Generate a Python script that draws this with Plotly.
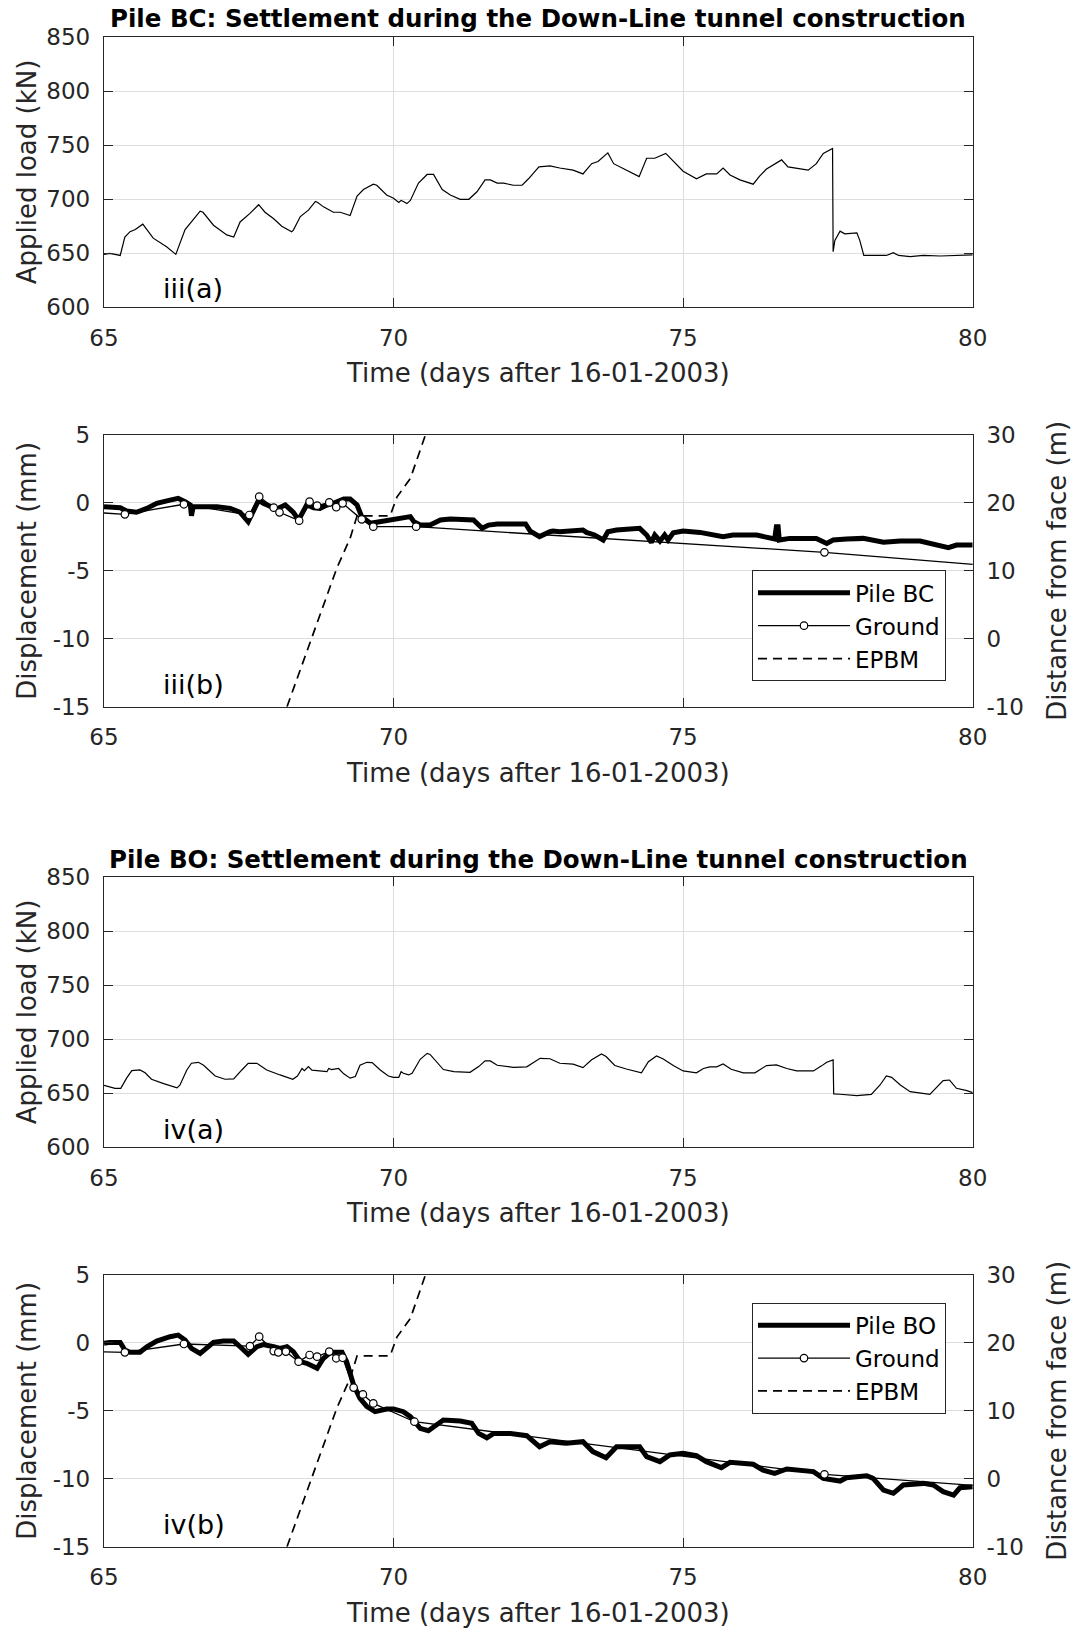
import plotly.graph_objects as go

# ---------------- data ----------------
t_bc_load = [65.00,65.10,65.28,65.36,65.45,65.54,65.67,65.85,66.08,66.24,66.40,66.54,66.66,66.71,66.89,
             67.12,67.24,67.35,67.52,67.67,67.78,67.93,68.07,68.24,68.27,68.39,68.53,68.65,68.69,68.79,
             68.96,69.08,69.25,69.37,69.48,69.65,69.71,69.88,70.00,70.09,70.13,70.17,70.23,70.29,70.43,
             70.58,70.69,70.84,70.98,71.15,71.30,71.44,71.58,71.67,71.79,71.90,72.07,72.22,72.33,72.51,
             72.70,72.87,73.10,73.27,73.42,73.53,73.70,73.80,74.02,74.24,74.37,74.51,74.70,74.83,75.00,
             75.23,75.40,75.58,75.69,75.81,75.98,76.21,76.32,76.44,76.58,76.70,76.81,76.96,77.16,77.30,
             77.42,77.58,77.59,77.62,77.71,77.79,78.00,78.05,78.12,78.28,78.51,78.63,78.72,78.92,79.15,
             79.44,79.72,80.00]
load_bc = [649,650,648,665,670,672,677,664,656,649,672,681,689,688,676,
           667,665,679,687,695,688,682,675,670,671.5,684,690,698,697,693,
           688,688,685,703,709,714,713,704,701,697,699,698,696,699,715,
           723,723,709,704,700,700,707,718,718,715,715,713,713,719,730,
           731,729,727,723.5,733,735,743,733,727,721,738,738,742.5,735,726,
           719,723.5,723.5,729,722.5,718,714,721.5,728,733,736.5,730,729,727,733,
           742.5,747,651.5,662,670.5,668,669,662,648,648,648,650.5,648,647,648,
           647.5,648,648.5]

t_bo_load = [65.00,65.10,65.19,65.29,65.39,65.48,65.62,65.71,65.82,66.03,66.26,66.31,66.43,66.51,66.63,
             66.72,66.92,67.09,67.24,67.38,67.49,67.64,67.81,68.04,68.26,68.34,68.42,68.46,68.53,68.59,
             68.85,68.88,68.93,69.05,69.14,69.25,69.34,69.42,69.54,69.63,69.77,69.91,70.00,70.09,70.13,
             70.17,70.26,70.32,70.46,70.58,70.63,70.86,71.04,71.32,71.47,71.58,71.67,71.79,72.07,72.30,
             72.42,72.53,72.70,72.87,73.10,73.27,73.42,73.59,73.67,73.82,74.02,74.28,74.40,74.54,74.65,
             74.83,75.00,75.23,75.35,75.46,75.58,75.69,75.83,76.04,76.24,76.44,76.61,76.79,76.96,77.25,
             77.39,77.48,77.59,77.60,77.71,78.00,78.25,78.40,78.51,78.60,78.75,78.92,79.26,79.38,79.49,
             79.60,79.72,79.90,80.00]
load_bo = [657.4,656,654.6,654.6,664,671,671.6,669,663,659,655,657.5,671.6,677.8,678.7,
           676,666,663,663.3,671.6,677.8,677.8,671.6,667,663,666,673,671,674.7,671.5,
           670,673,672,673,668,664,665.5,676,678.7,678.4,671.6,666,664.8,664.8,670,
           668.5,667,668.5,681.5,687,686,672,670,669.4,674.7,680,680,676,674,674.5,
           679,682.4,682,677.8,677,673.8,681,686.4,684,675.7,672.5,669,679.3,684.6,682,
           675.7,670.7,669,673,674.5,674.5,677.2,672.2,669,669,675.7,676.3,673,670.7,670.7,
           675.4,678.7,681,649.4,649.1,647.8,649,657.7,666,664.8,657.7,651.5,649,656,661.7,
           662.3,654.6,652.5,650.6]

t_bc_pile = [65.00,65.28,65.39,65.56,65.74,65.91,66.14,66.28,66.40,66.49,66.51,66.54,66.72,66.95,67.18,
             67.35,67.49,67.58,67.67,67.75,67.87,67.98,68.13,68.27,68.36,68.50,68.62,68.73,68.85,68.96,
             69.14,69.25,69.37,69.45,69.60,69.77,69.94,70.12,70.29,70.35,70.46,70.63,70.81,70.98,71.38,
             71.53,71.64,71.79,72.28,72.36,72.52,72.70,72.75,72.87,73.27,73.33,73.47,73.62,73.70,73.85,
             74.08,74.25,74.37,74.45,74.51,74.60,74.68,74.74,74.83,75.00,75.29,75.69,75.86,76.27,76.58,
             76.61,76.64,76.66,76.84,77.30,77.48,77.59,77.82,78.11,78.46,78.75,79.09,79.44,79.58,79.72,
             80.00]
disp_bc_pile = [-0.28,-0.35,-0.60,-0.69,-0.40,-0.03,0.21,0.34,0.09,-0.15,-0.94,-0.28,-0.28,-0.28,-0.40,
                -0.69,-1.38,-0.64,0.20,-0.03,-0.28,-0.45,-0.15,-0.69,-1.26,-0.15,-0.35,-0.40,-0.15,-0.03,
                0.29,0.29,-0.15,-1.01,-1.50,-1.38,-1.26,-1.18,-1.01,-1.38,-1.63,-1.63,-1.26,-1.18,-1.26,
                -1.87,-1.63,-1.55,-1.55,-2.07,-2.48,-2.12,-2.07,-2.12,-1.99,-2.17,-2.36,-2.73,-2.12,-1.99,
                -1.92,-1.87,-2.36,-2.90,-2.36,-2.80,-2.36,-2.73,-2.19,-2.07,-2.17,-2.48,-2.36,-2.36,-2.66,
                -1.75,-1.75,-2.73,-2.61,-2.61,-2.98,-2.73,-2.66,-2.61,-2.90,-2.80,-2.80,-3.10,-3.29,-3.10,
                -3.10]

t_bc_ground = [64.70,65.36,66.38,67.51,67.68,67.93,68.03,68.37,68.55,68.68,68.89,69.01,69.12,69.45,69.65,
               70.39,77.44,81.00]
disp_bc_ground = [-0.66,-0.84,-0.10,-0.89,0.46,-0.35,-0.69,-1.31,0.09,-0.20,0.04,-0.32,-0.03,-1.21,-1.75,
                  -1.75,-3.64,-4.86]

t_epbm = [68.16,68.89,69.02,69.25,69.37,69.94,70.00,70.06,70.29,70.55]
dist_epbm = [-10.0,7.4,10.4,14.8,18.1,18.1,19.5,20.9,23.6,30.0]

t_bo_pile = [65.00,65.10,65.28,65.36,65.45,65.62,65.74,65.91,66.14,66.28,66.40,66.51,66.66,66.77,66.89,
             67.06,67.24,67.35,67.49,67.64,67.75,67.93,68.04,68.16,68.27,68.39,68.50,68.68,68.79,68.91,
             69.11,69.19,69.31,69.42,69.54,69.68,69.88,70.00,70.17,70.29,70.46,70.60,70.75,70.86,71.15,
             71.35,71.47,71.61,71.73,72.02,72.30,72.52,72.70,72.98,73.27,73.44,73.67,73.85,74.25,74.37,
             74.60,74.77,75.00,75.23,75.40,75.66,75.81,76.21,76.38,76.58,76.79,77.25,77.42,77.71,77.82,
             78.17,78.28,78.46,78.63,78.80,79.15,79.32,79.49,79.67,79.78,80.00]
disp_bo_pile = [-0.03,0.04,0.04,-0.52,-0.69,-0.69,-0.28,0.14,0.46,0.58,0.21,-0.40,-0.77,-0.40,0.04,
                0.14,0.14,-0.28,-0.84,-0.28,-0.12,-0.28,-0.40,-0.28,-0.64,-1.38,-1.50,-1.87,-1.13,-0.69,
                -0.69,-1.38,-3.10,-4.08,-4.69,-5.06,-4.86,-4.86,-5.06,-5.43,-6.29,-6.46,-6.04,-5.67,-5.75,
                -5.92,-6.66,-6.98,-6.66,-6.66,-6.83,-7.64,-7.27,-7.39,-7.27,-8.00,-8.45,-7.64,-7.64,-8.37,
                -8.74,-8.25,-8.13,-8.30,-8.74,-9.18,-8.79,-8.93,-9.36,-9.60,-9.28,-9.47,-9.97,-10.17,-9.92,
                -9.78,-9.97,-10.83,-11.07,-10.46,-10.34,-10.46,-10.95,-11.20,-10.66,-10.58]

t_bo_ground = [64.70,65.36,66.38,67.52,67.68,67.93,68.01,68.14,68.36,68.55,68.68,68.89,69.01,69.12,69.31,
               69.47,69.65,70.36,77.44,81.00]
disp_bo_ground = [-0.62,-0.69,-0.08,-0.23,0.46,-0.60,-0.69,-0.64,-1.38,-0.89,-1.01,-0.64,-1.13,-1.09,-3.29,
                  -3.79,-4.45,-5.80,-9.67,-10.80]

x_ticks = [65, 70, 75, 80]
load_ticks = [600, 650, 700, 750, 800, 850]
disp_ticks = [-15, -10, -5, 0, 5]
disp_tick_labels = ["-15", "-10", "-5", "0", "5"]
dist_ticks = [-10, 0, 10, 20, 30]
dist_tick_labels = ["-10", "0", "10", "20", "30"]

# ---------------- layout helpers ----------------
W, H = 1074, 1631
FONT = "DejaVu Sans"
AX = "#262626"

def px(x):
    return x / W

def py(y):
    return 1 - y / H

XL, XR = 104, 972.7
panels = {  # top, bottom in pixels
    1: (37.3, 307.3),
    2: (435.0, 706.7),
    3: (877.3, 1147.3),
    4: (1275.0, 1546.7),
}

def xaxis_cfg(anchor):
    return dict(domain=[px(XL), px(XR)], range=[65, 80], tickvals=x_ticks, anchor=anchor,
                automargin=False,
                showgrid=True, gridcolor="#dedede", gridwidth=1, zeroline=False,
                showline=True, linecolor=AX, linewidth=1.3, mirror="ticks",
                ticks="inside", ticklen=9, tickwidth=1.2, tickcolor=AX,
                tickfont=dict(family=FONT, size=23, color=AX), ticklabelstandoff=10)

def yaxis_cfg(p, rng, tv, anchor, mirror="ticks", grid=True, tt=None):
    top, bot = panels[p]
    d = dict(domain=[py(bot), py(top)], range=rng, tickvals=tv, anchor=anchor,
             automargin=False,
             showgrid=grid, gridcolor="#dedede", gridwidth=1, zeroline=False,
             showline=True, linecolor=AX, linewidth=1.3, mirror=mirror,
             ticks="inside", ticklen=9, tickwidth=1.2, tickcolor=AX,
             tickfont=dict(family=FONT, size=23, color=AX), ticklabelstandoff=8)
    if tt is not None:
        d["ticktext"] = tt
    return d

fig = go.Figure()

# panel iii(a)
fig.add_trace(go.Scatter(x=t_bc_load, y=load_bc, mode="lines", line=dict(color="black", width=1.2),
                         xaxis="x", yaxis="y", showlegend=False, name="Load BC"))
# panel iii(b)
fig.add_trace(go.Scatter(x=t_bc_pile, y=disp_bc_pile, mode="lines", line=dict(color="black", width=5),
                         xaxis="x2", yaxis="y2", name="Pile BC", legend="legend"))
fig.add_trace(go.Scatter(x=t_bc_ground, y=disp_bc_ground, mode="lines+markers",
                         line=dict(color="black", width=1.3),
                         marker=dict(symbol="circle", size=7.5, color="white", line=dict(color="black", width=1.2)),
                         xaxis="x2", yaxis="y2", name="Ground", legend="legend"))
fig.add_trace(go.Scatter(x=t_epbm, y=dist_epbm, mode="lines", line=dict(color="black", width=1.7, dash="9px,6px"),
                         xaxis="x2", yaxis="y3", name="EPBM", legend="legend"))
# panel iv(a)
fig.add_trace(go.Scatter(x=t_bo_load, y=load_bo, mode="lines", line=dict(color="black", width=1.2),
                         xaxis="x3", yaxis="y4", showlegend=False, name="Load BO"))
# panel iv(b)
fig.add_trace(go.Scatter(x=t_bo_pile, y=disp_bo_pile, mode="lines", line=dict(color="black", width=5),
                         xaxis="x4", yaxis="y5", name="Pile BO", legend="legend2"))
fig.add_trace(go.Scatter(x=t_bo_ground, y=disp_bo_ground, mode="lines+markers",
                         line=dict(color="black", width=1.3),
                         marker=dict(symbol="circle", size=7.5, color="white", line=dict(color="black", width=1.2)),
                         xaxis="x4", yaxis="y5", name="Ground", legend="legend2"))
fig.add_trace(go.Scatter(x=t_epbm, y=dist_epbm, mode="lines", line=dict(color="black", width=1.7, dash="9px,6px"),
                         xaxis="x4", yaxis="y6", name="EPBM", legend="legend2"))

legend_common = dict(bgcolor="white", bordercolor=AX, borderwidth=1,
                     font=dict(family=FONT, size=23, color="black"),
                     xanchor="left", yanchor="top", itemwidth=92, tracegroupgap=0,
                     traceorder="normal")

fig.update_layout(
    width=W, height=H, margin=dict(l=0, r=0, t=0, b=0, autoexpand=False),
    paper_bgcolor="white", plot_bgcolor="white",
    xaxis=xaxis_cfg("y"),
    xaxis2=xaxis_cfg("y2"),
    xaxis3=xaxis_cfg("y4"),
    xaxis4=xaxis_cfg("y5"),
    yaxis=yaxis_cfg(1, [600, 850], load_ticks, "x"),
    yaxis2=yaxis_cfg(2, [-15, 5], disp_ticks, "x2", mirror=False, tt=disp_tick_labels),
    yaxis3=dict(yaxis_cfg(2, [-10, 30], dist_ticks, "x2", mirror=False, grid=False, tt=dist_tick_labels),
                overlaying="y2", side="right"),
    yaxis4=yaxis_cfg(3, [600, 850], load_ticks, "x3"),
    yaxis5=yaxis_cfg(4, [-15, 5], disp_ticks, "x4", mirror=False, tt=disp_tick_labels),
    yaxis6=dict(yaxis_cfg(4, [-10, 30], dist_ticks, "x4", mirror=False, grid=False, tt=dist_tick_labels),
                overlaying="y5", side="right"),
    legend=dict(legend_common, x=px(752), y=py(570.3)),
    legend2=dict(legend_common, x=px(752), y=py(1302.7)),
)

cx = (XL + XR) / 2
ann = []
# panel titles
for text, ymid in [("Pile BC: Settlement during the Down-Line tunnel construction", 18.5),
                   ("Pile BO: Settlement during the Down-Line tunnel construction", 859.0)]:
    ann.append(dict(text="<b>" + text + "</b>", x=px(cx), y=py(ymid), xref="paper", yref="paper",
                    xanchor="center", yanchor="middle", showarrow=False,
                    font=dict(family=FONT, size=24.5, color="black")))
# x-axis titles
for p in (1, 2, 3, 4):
    ann.append(dict(text="Time (days after 16-01-2003)", x=px(cx), y=py(panels[p][1] + 66),
                    xref="paper", yref="paper", xanchor="center", yanchor="middle", showarrow=False,
                    font=dict(family=FONT, size=26, color=AX)))
# y-axis titles
for p, text in [(1, "Applied load (kN)"), (2, "Displacement (mm)"), (3, "Applied load (kN)"), (4, "Displacement (mm)")]:
    top, bot = panels[p]
    ann.append(dict(text=text, x=px(27), y=py((top + bot) / 2), xref="paper", yref="paper",
                    xanchor="center", yanchor="middle", textangle=-90, showarrow=False,
                    font=dict(family=FONT, size=26, color=AX)))
for p in (2, 4):
    top, bot = panels[p]
    ann.append(dict(text="Distance from face (m)", x=px(1057), y=py((top + bot) / 2), xref="paper", yref="paper",
                    xanchor="center", yanchor="middle", textangle=-90, showarrow=False,
                    font=dict(family=FONT, size=26, color=AX)))
# panel labels
for text, ymid in [("iii(a)", 288.5), ("iii(b)", 684.0), ("iv(a)", 1129.0), ("iv(b)", 1524.0)]:
    ann.append(dict(text=text, x=px(161), y=py(ymid), xref="paper", yref="paper",
                    xanchor="left", yanchor="middle", showarrow=False,
                    font=dict(family=FONT, size=27, color="black")))
fig.update_layout(annotations=ann)

fig.write_html("out.html")
